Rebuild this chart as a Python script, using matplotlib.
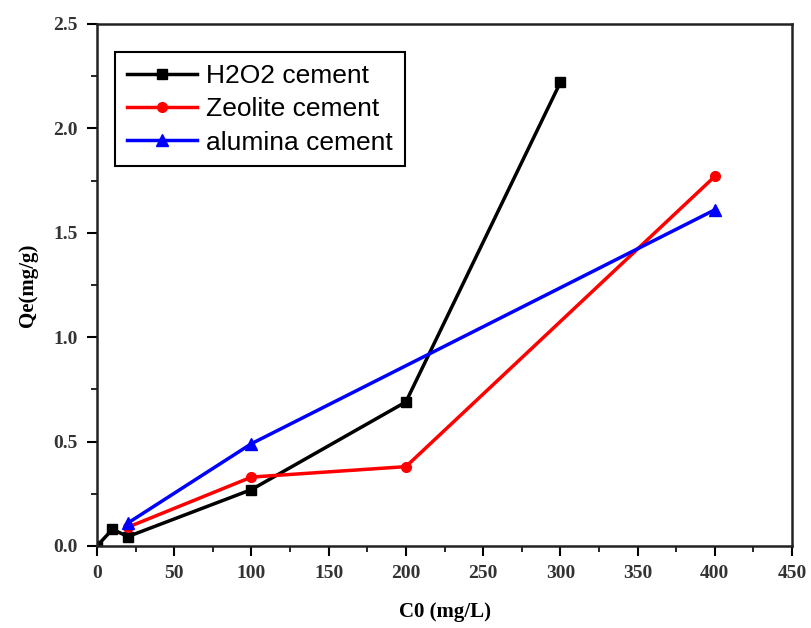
import matplotlib.pyplot as plt
from matplotlib.ticker import MultipleLocator

# data
x_h2o2 = [0, 10, 20, 100, 200, 300]
y_h2o2 = [0.0, 0.08, 0.045, 0.27, 0.69, 2.22]

x_zeo = [20, 100, 200, 400]
y_zeo = [0.09, 0.33, 0.38, 1.77]

x_alu = [20, 100, 400]
y_alu = [0.11, 0.49, 1.61]

fig = plt.figure(figsize=(8.11, 6.28), dpi=100)
ax = fig.add_axes([0.1196, 0.1306, 0.857, 0.8312])

ax.plot(x_h2o2, y_h2o2, color='black', marker='s', markersize=7, linewidth=2.5, label='H2O2 cement')
ax.plot(x_zeo, y_zeo, color='red', marker='o', markersize=7, linewidth=2.5, label='Zeolite cement')
ax.plot(x_alu, y_alu, color='blue', marker='^', markersize=8, linewidth=2.5, label='alumina cement')

ax.set_xlim(0, 450)
ax.set_ylim(0, 2.5)
ax.xaxis.set_major_locator(MultipleLocator(50))
ax.xaxis.set_minor_locator(MultipleLocator(25))
ax.yaxis.set_major_locator(MultipleLocator(0.5))
ax.yaxis.set_minor_locator(MultipleLocator(0.25))
ax.yaxis.set_major_formatter(plt.FuncFormatter(lambda v, p: f'{v:.1f}'))

ax.tick_params(which='major', direction='out', length=7, width=1.5, labelsize=14, pad=7)
ax.tick_params(which='minor', direction='out', length=4, width=1.2)
for lab in ax.get_xticklabels() + ax.get_yticklabels():
    lab.set_family('Liberation Serif')
    lab.set_fontweight('bold')
    lab.set_color('#333333')
for s in ax.spines.values():
    s.set_linewidth(1.8)
    s.set_color('#222222')

ax.set_xlabel('C0 (mg/L)', family='Liberation Serif', fontweight='bold', fontsize=15, labelpad=14)
ax.set_ylabel('Qe(mg/g)', family='Liberation Serif', fontweight='bold', fontsize=15, labelpad=11)

leg = ax.legend(loc='upper left', bbox_to_anchor=(0.026, 0.946), borderaxespad=0,
                prop={'family': 'Liberation Sans', 'size': 19},
                fancybox=False, edgecolor='black', framealpha=1, handlelength=2.65,
                labelspacing=0.35, borderpad=0.45, handletextpad=0.35)
leg.get_frame().set_linewidth(1.5)

fig.savefig('out.png', dpi=100)
